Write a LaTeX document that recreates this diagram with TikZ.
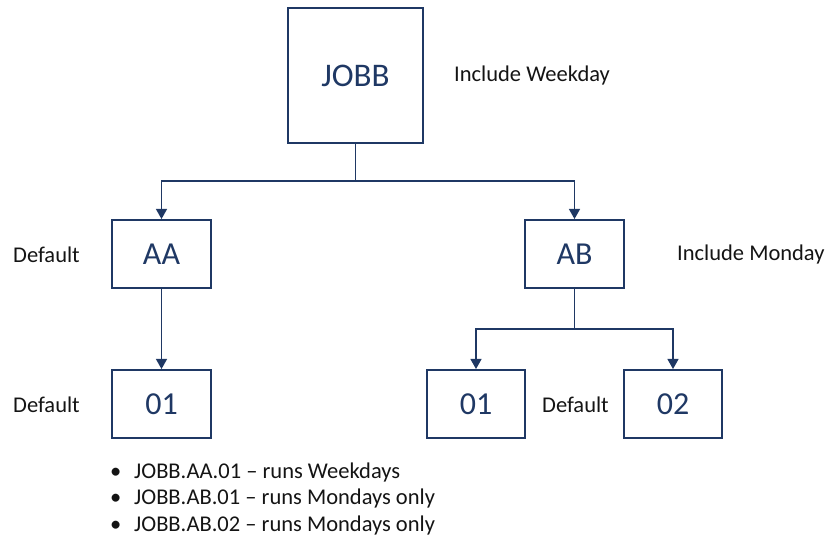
\documentclass[tikz,border=0pt]{standalone}
\usepackage{fontspec}
\setmainfont{Carlito}
\usetikzlibrary{arrows.meta, positioning, calc}
\definecolor{navycolor}{RGB}{31,56,100}
\definecolor{textcolor}{RGB}{20,20,20}

\begin{document}
\begin{tikzpicture}[x=1pt, y=-1pt,
    jobbox/.style={rectangle, draw=navycolor, line width=2pt, text=navycolor, inner sep=0pt},
    smallbox/.style={jobbox, minimum width=99pt, minimum height=68pt, font=\fontsize{32}{36}\selectfont},
    link/.style={draw=navycolor, line width=1.2pt},
    arr/.style={link, -{Triangle[length=10pt, width=11pt]}},
    note/.style={text=textcolor, font=\fontsize{22.5}{26}\selectfont, inner sep=0pt}]
    \useasboundingbox (0,0) rectangle (825,537);

    % Top job
    \node[jobbox, minimum width=135pt, minimum height=135pt, font=\fontsize{33}{36}\selectfont] (jobb) at (355.5,75.5) {JOBB};
    \node[note, anchor=west] (incweek) at (454,76) {Include Weekday};

    % Second level
    \node[smallbox] (aa) at (161.5,254) {AA};
    \node[smallbox] (ab) at (574.5,254) {AB};
    \node[note, anchor=west] (defaa) at (13,255) {Default};
    \node[note, anchor=west] (incmon) at (677,255) {Include Monday};

    % Third level
    \node[smallbox] (aaone) at (161.5,404) {01};
    \node[smallbox, minimum width=98pt] (abone) at (476,404) {01};
    \node[smallbox, minimum width=98pt] (abtwo) at (673,404) {02};
    \node[note, anchor=west] (defaaone) at (13,405) {Default};
    \node[note, anchor=west] (defabtwo) at (542,405) {Default};

    % Connectors
    \coordinate (split) at (355.5,181);
    \coordinate (absplit) at (574.5,329);
    \draw[link] (jobb.south) -- (split);
    \draw[arr] (split) -| (aa.north);
    \draw[arr] (split) -| (ab.north);
    \draw[arr] (aa.south) -- (aaone.north);
    \draw[link] (ab.south) -- (absplit);
    \draw[arr] (absplit) -| (abone.north);
    \draw[arr] (absplit) -| (abtwo.north);

    % Summary
    \node[note, anchor=base west] (itemone) at (110,478) {\makebox[24pt][l]{\textbullet}JOBB.AA.01 -- runs Weekdays};
    \node[note, anchor=base west] (itemtwo) at (110,504.5) {\makebox[24pt][l]{\textbullet}JOBB.AB.01 -- runs Mondays only};
    \node[note, anchor=base west] (itemthree) at (110,531) {\makebox[24pt][l]{\textbullet}JOBB.AB.02 -- runs Mondays only};
\end{tikzpicture}
\end{document}
